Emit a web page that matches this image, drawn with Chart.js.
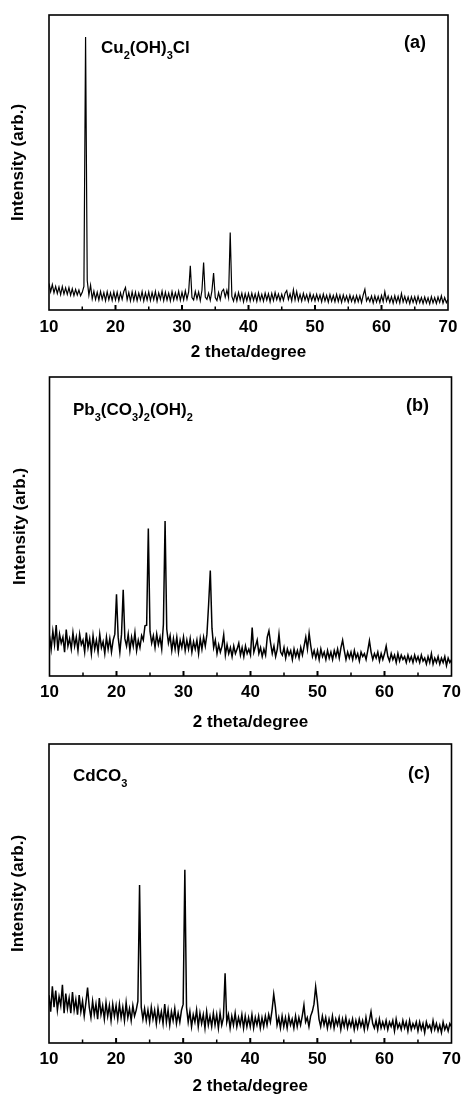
<!DOCTYPE html>
<html>
<head>
<meta charset="utf-8">
<script src="https://cdn.jsdelivr.net/npm/chart.js@4.4.1/dist/chart.umd.min.js"></script>
<style>
  body { margin: 0; background: #fff; width: 461px; height: 1097px; position: relative; overflow: hidden;
         font-family: 'Liberation Sans', Arial, sans-serif; }
  canvas { position: absolute; left: 0; }
  .lbl { position: absolute; font-weight: bold; color: #000; line-height: 1; white-space: nowrap; }
  .lbl span { font-size: 11px; vertical-align: -6px; }
</style>
</head>
<body>
<canvas id="chartA" width="461" height="370" style="top:0px"></canvas>
<canvas id="chartB" width="461" height="370" style="top:365px"></canvas>
<canvas id="chartC" width="461" height="367" style="top:730px"></canvas>

<div class="lbl" style="left:101px; top:38.6px; font-size:17px">Cu<span>2</span>(OH)<span>3</span>Cl</div>
<div class="lbl" style="left:404px; top:33.3px; font-size:18px">(a)</div>
<div class="lbl" style="left:73px; top:401.3px; font-size:17px">Pb<span>3</span>(CO<span>3</span>)<span>2</span>(OH)<span>2</span></div>
<div class="lbl" style="left:406px; top:396px; font-size:18px">(b)</div>
<div class="lbl" style="left:73px; top:767.3px; font-size:17px">CdCO<span>3</span></div>
<div class="lbl" style="left:408px; top:764px; font-size:18px">(c)</div>

<script>
// scan grid: 2 theta from 10 to 70 degree, 0.25 degree step
const thetaStart = 10;
const thetaStep = 0.25;
const xTickLabels = [10, 20, 30, 40, 50, 60, 70];

// intensities in % of the panel height
const cu2oh3cl = [
  9.0, 6.2, 8.6, 5.8, 8.0, 5.6, 7.8, 5.2, 7.9, 5.4, 7.5, 5.3, 7.6, 5.0, 7.2, 4.9, 7.0, 5.1, 6.8, 4.8,
  6.0, 8.0, 92.5, 10.0, 5.0, 8.4, 3.8, 6.4, 3.6, 6.0, 3.4, 6.3, 3.6, 5.9, 3.2, 6.2, 3.5, 5.8, 3.3, 6.1,
  3.4, 6.0, 3.2, 5.8, 3.6, 6.3, 7.6, 3.5, 5.9, 3.1, 6.1, 3.3, 6.0, 3.2, 5.7, 3.5, 6.2, 3.1, 5.8, 3.4,
  6.1, 3.2, 5.9, 3.5, 6.3, 3.0, 5.8, 3.6, 6.4, 3.2, 6.0, 3.4, 5.7, 3.1, 6.2, 3.4, 5.8, 3.6, 6.3, 3.3,
  6.0, 3.5, 6.5, 3.7, 6.1, 15.0, 4.2, 3.4, 6.3, 3.8, 6.1, 3.2, 6.7, 16.1, 4.4, 3.6, 5.7, 3.3, 6.5, 12.5,
  4.2, 3.2, 5.9, 3.5, 6.3, 7.0, 4.4, 6.7, 4.2, 26.3, 4.6, 3.0, 5.6, 3.1, 5.9, 3.4, 5.7, 2.8, 5.5, 3.2,
  5.6, 3.1, 5.7, 3.3, 5.4, 2.9, 5.8, 3.2, 5.3, 3.0, 5.7, 3.4, 5.5, 2.8, 5.6, 3.2, 5.9, 3.5, 5.4, 3.1,
  5.3, 3.3, 5.7, 6.6, 3.6, 5.5, 3.1, 6.8, 3.4, 6.2, 3.2, 5.3, 3.0, 5.6, 3.4, 5.2, 2.9, 5.5, 3.2, 5.1,
  3.1, 5.3, 3.2, 5.1, 2.8, 5.4, 3.1, 5.0, 2.7, 5.2, 3.0, 4.9, 2.8, 5.3, 2.9, 5.0, 2.6, 5.1, 3.0, 4.8,
  2.7, 5.0, 2.9, 4.7, 2.6, 4.9, 2.8, 4.8, 2.5, 5.1, 7.0, 3.1, 4.3, 2.8, 4.7, 2.4, 4.8, 2.7, 4.6, 2.5,
  4.9, 2.8, 6.2, 3.0, 4.7, 2.6, 4.5, 2.3, 4.8, 2.6, 4.6, 2.4, 5.6, 2.7, 4.6, 2.5, 4.4, 2.2, 4.5, 2.6,
  4.5, 2.3, 4.6, 2.5, 4.2, 2.2, 4.4, 2.4, 4.1, 2.1, 4.5, 2.4, 4.2, 2.2, 4.4, 2.6, 4.8, 2.3, 4.2, 2.5,
  3.6
];

const pb3co32oh2 = [
  13.5, 9.0, 15.0, 10.5, 17.0, 8.5, 14.0, 11.0, 13.0, 8.0, 15.5, 10.0, 12.5, 9.0, 14.5, 10.0, 13.0, 8.5, 14.0, 10.5,
  12.0, 8.0, 14.5, 9.5, 12.5, 7.5, 13.5, 9.0, 12.0, 8.0, 14.0, 9.5, 11.5, 7.5, 13.0, 9.0, 12.5, 8.0, 12.0, 14.0,
  27.3, 13.0, 8.0, 14.0, 28.8, 12.5, 10.0, 14.0, 8.5, 13.0, 10.0, 14.5, 8.5, 12.0, 9.5, 13.5, 12.0, 16.8, 17.0, 49.3,
  15.0, 11.0, 13.5, 9.5, 14.0, 10.5, 13.0, 9.0, 17.3, 51.8, 15.7, 11.0, 13.5, 8.5, 12.5, 9.0, 13.0, 8.0, 12.0, 9.5,
  13.0, 8.5, 12.0, 9.0, 12.5, 8.0, 11.5, 9.0, 12.0, 7.5, 12.5, 9.0, 13.0, 10.0, 14.0, 24.0, 35.3, 16.0, 9.5, 12.0,
  7.5, 10.5, 8.0, 10.0, 13.8, 7.0, 10.5, 7.5, 9.5, 6.5, 10.0, 7.5, 9.0, 11.0, 7.0, 9.5, 6.5, 10.0, 7.5, 9.0,
  7.0, 16.2, 8.0, 10.0, 12.0, 7.5, 9.5, 6.5, 9.0, 7.0, 13.0, 15.1, 11.0, 7.5, 10.0, 6.5, 9.0, 14.0, 8.0, 7.0,
  9.5, 6.0, 9.0, 7.0, 8.5, 5.5, 9.0, 6.5, 8.5, 6.0, 9.5, 7.0, 10.0, 13.0, 9.0, 14.3, 10.0, 6.5, 8.5, 6.0,
  8.5, 5.5, 9.0, 6.5, 8.0, 5.5, 8.5, 6.0, 8.0, 5.5, 8.5, 6.5, 9.0, 6.0, 9.5, 12.0, 8.5, 5.5, 8.0, 6.0,
  8.0, 5.5, 8.5, 6.0, 7.5, 5.0, 8.0, 6.5, 7.5, 5.5, 8.5, 11.8, 8.0, 5.5, 7.5, 6.0, 8.0, 5.0, 7.5, 5.5,
  7.5, 10.0, 6.5, 5.0, 7.5, 5.5, 7.0, 4.5, 7.5, 5.0, 7.0, 5.5, 6.5, 4.5, 7.0, 5.0, 6.5, 4.5, 7.0, 5.0,
  6.5, 4.5, 7.0, 5.0, 6.0, 4.0, 6.5, 4.5, 7.5, 4.0, 6.0, 4.5, 6.5, 4.0, 6.0, 4.5, 6.5, 3.5, 6.0, 4.5,
  5.5
];

const cdco3 = [
  16.0, 10.5, 19.0, 12.0, 17.5, 11.0, 15.5, 12.5, 19.5, 10.0, 16.5, 11.5, 15.0, 10.0, 17.0, 11.0, 14.5, 9.5, 16.0, 10.5,
  14.0, 9.0, 13.5, 18.5, 12.0, 8.5, 14.0, 9.5, 13.0, 8.0, 15.0, 9.5, 12.5, 8.0, 13.5, 9.0, 12.5, 7.5, 13.0, 9.0,
  12.5, 8.0, 13.0, 8.5, 12.0, 7.5, 13.5, 8.5, 11.5, 7.5, 12.5, 9.0, 11.0, 14.0, 52.8, 12.0, 8.0, 11.5, 7.5, 11.0,
  7.0, 12.0, 8.0, 11.0, 6.5, 11.5, 7.5, 10.5, 6.5, 13.0, 7.0, 11.0, 6.0, 10.5, 7.5, 11.5, 6.5, 10.0, 7.0, 11.0,
  13.0, 57.9, 12.0, 7.0, 10.5, 5.5, 9.5, 7.0, 11.0, 5.5, 10.0, 6.5, 9.5, 5.0, 10.5, 6.0, 9.0, 5.5, 10.0, 6.0,
  9.5, 5.0, 10.0, 6.0, 8.5, 23.3, 7.0, 9.5, 5.0, 9.0, 6.0, 10.0, 5.5, 8.5, 6.0, 9.5, 5.0, 9.0, 5.5, 8.5,
  5.5, 9.5, 5.0, 8.5, 6.0, 9.0, 5.0, 8.5, 5.5, 9.0, 6.0, 9.5, 7.0, 11.0, 16.3, 12.0, 6.0, 8.5, 5.0, 9.0,
  5.5, 8.5, 5.0, 9.0, 6.0, 8.0, 5.0, 9.0, 5.5, 8.5, 6.0, 9.0, 12.7, 7.0, 8.5, 5.5, 9.0, 10.5, 13.0, 18.8,
  14.0, 8.0, 5.5, 9.0, 6.0, 8.5, 5.0, 8.0, 5.5, 9.0, 5.0, 8.0, 6.0, 8.5, 4.5, 8.0, 5.5, 8.5, 5.0, 7.5,
  5.5, 8.0, 4.5, 7.5, 5.0, 8.0, 5.5, 7.5, 4.5, 8.5, 5.0, 7.5, 10.5, 6.5, 5.0, 7.5, 4.5, 8.0, 5.0, 7.0,
  5.0, 7.5, 4.5, 7.0, 5.5, 7.5, 4.0, 8.0, 5.0, 6.5, 4.5, 7.5, 5.0, 7.0, 4.0, 7.5, 4.5, 6.5, 5.0, 7.0,
  4.0, 7.0, 4.5, 6.5, 3.5, 7.0, 5.0, 6.0, 4.0, 7.5, 4.5, 6.5, 4.0, 6.0, 3.5, 7.0, 4.5, 6.0, 4.0, 6.5,
  5.5
];

Chart.defaults.font.family = "'Liberation Sans', Arial, sans-serif";
Chart.defaults.font.weight = 'bold';
Chart.defaults.color = '#000';

// frame around the plot + inward ticks every 5 degree
const framePlugin = {
  id: 'frame',
  afterDatasetsDraw(chart) {
    const { ctx, chartArea: a, scales: { x } } = chart;
    ctx.save();
    ctx.strokeStyle = '#000';
    ctx.lineWidth = 1.6;
    ctx.strokeRect(a.left, a.top, a.right - a.left, a.bottom - a.top);
    for (let v = x.min + 5; v < x.max; v += 5) {
      const px = x.getPixelForValue(v);
      const major = v % 10 === 0;
      ctx.lineWidth = major ? 2 : 1.5;
      ctx.beginPath();
      ctx.moveTo(px, a.bottom);
      ctx.lineTo(px, a.bottom - (major ? 5 : 3.5));
      ctx.stroke();
    }
    ctx.restore();
  }
};

function drawPanel(id, values, box) {
  const canvas = document.getElementById(id);
  const points = values.map((y, i) => ({ x: thetaStart + i * thetaStep, y: y }));
  return new Chart(canvas.getContext('2d'), {
    type: 'line',
    data: {
      datasets: [{
        data: points,
        borderColor: '#000',
        borderWidth: box.lineWidth,
        pointRadius: 0,
        tension: 0,
        fill: false
      }]
    },
    options: {
      responsive: false,
      animation: false,
      layout: { padding: { top: box.top, right: box.right, left: 0, bottom: 0 } },
      plugins: { legend: { display: false }, tooltip: { enabled: false } },
      scales: {
        x: {
          type: 'linear',
          min: xTickLabels[0],
          max: xTickLabels[xTickLabels.length - 1],
          afterBuildTicks: s => { s.ticks = xTickLabels.map(v => ({ value: v })); },
          afterFit: s => { s.height = box.xHeight; },
          grid: { display: false },
          border: { display: false },
          ticks: { font: { size: 17, weight: 'bold' }, padding: box.tickPad, maxRotation: 0 },
          title: {
            display: true,
            text: '2 theta/degree',
            font: { size: 17, weight: 'bold' },
            padding: { top: 0, bottom: box.titlePad }
          }
        },
        y: {
          min: 0,
          max: 100,
          afterFit: s => { s.width = box.left; },
          grid: { display: false },
          border: { display: false },
          ticks: { display: false },
          title: {
            display: true,
            text: 'Intensity (arb.)',
            font: { size: 17, weight: 'bold' },
            padding: { top: box.yTitlePad, bottom: 0 }
          }
        }
      }
    },
    plugins: [framePlugin]
  });
}

drawPanel('chartA', cu2oh3cl, { left: 49, right: 13, top: 15, xHeight: 60, tickPad: -1, titlePad: 7, yTitlePad: 8, lineWidth: 1.2 });
drawPanel('chartB', pb3co32oh2, { left: 49.5, right: 9.5, top: 12, xHeight: 59, tickPad: -2, titlePad: 2, yTitlePad: 10.5, lineWidth: 1.5 });
drawPanel('chartC', cdco3, { left: 49, right: 9.5, top: 14, xHeight: 54, tickPad: -2, titlePad: 0, yTitlePad: 8, lineWidth: 1.5 });
</script>
</body>
</html>
